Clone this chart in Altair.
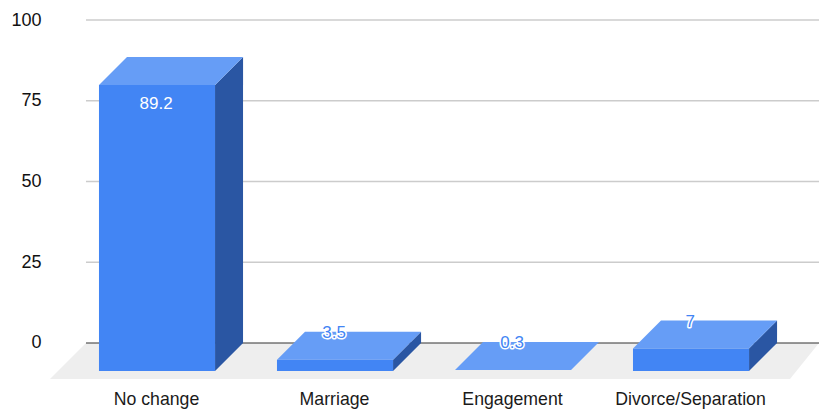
import altair as alt
import pandas as pd

categories = ["No change", "Marriage", "Engagement", "Divorce/Separation"]
values = [89.2, 3.5, 0.3, 7]
labels = ["89.2", "3.5", "0.3", "7"]
y_ticks = [0, 25, 50, 75, 100]

C_FRONT, C_TOP, C_SIDE, C_FLOOR = "#4285f4", "#669df6", "#2a56a3", "#eeeeee"
HALF = 0.326      # half bar width, in category steps
DX = 0.1573       # depth of the 3D box on x, in category steps
DY = 8.67         # depth of the 3D box on y, in value units
BAR_K = 0.993     # bars are drawn slightly shorter than the gridlines' scale
X_MAX = 3.719

x_scale = alt.Scale(domain=[-0.6236, X_MAX], nice=False, zero=False)
y_scale = alt.Scale(domain=[-11.146, 100], nice=False, zero=False)
FONT = "Liberation Sans"

front, top, side, text = [], [], [], []
for i, (cat, v, lab) in enumerate(zip(categories, values, labels)):
    h = v * BAR_K
    xl, xr = i - HALF, i + HALF
    if v >= 1:
        front.append(dict(cat=cat, x=xl, x2=xr, y=h - DY, y2=-DY))
        side.append(dict(cat=cat, x=xr, y=h - DY, y2=-DY))
        side.append(dict(cat=cat, x=xr + DX, y=h, y2=0))
    top.append(dict(cat=cat, x=xl, x2=xr, y=h - DY))
    top.append(dict(cat=cat, x=xl + DX, x2=xr + DX, y=h))
    inside = v > 20
    text.append(dict(x=i - 0.005, y=(h - DY - 5.9) if inside else h - 0.3, t=lab, halo=not inside))

front, top, side, text = map(pd.DataFrame, (front, top, side, text))
floor = pd.DataFrame([
    dict(x=-0.601, x2=3.556, y=-11.146),
    dict(x=-0.399, x2=X_MAX, y=0),
])
grid = pd.DataFrame(dict(y=y_ticks, x=-0.399, x2=X_MAX))

X = alt.X("x:Q", scale=x_scale, title=None, axis=alt.Axis(
    values=list(range(len(categories))), grid=False, domain=False, ticks=False,
    labelExpr="[" + ",".join(repr(c) for c in categories) + "][datum.value]",
    labelFont=FONT, labelFontSize=17.7, labelColor="#1a1a1a", labelPadding=11, labelOverlap=False,
    labelOffset=-1,
))
Y = alt.Y("y:Q", scale=y_scale, title=None, axis=alt.Axis(
    values=y_ticks, grid=False, domain=False, ticks=False,
    labelFont=FONT, labelFontSize=18, labelColor="#111111", labelPadding=5,
))

layers = [
    alt.Chart(floor).mark_area(orient="horizontal", color=C_FLOOR).encode(x=X, x2="x2:Q", y=Y),
    alt.Chart(grid[grid.y > 0]).mark_rule(color="#cccccc", strokeWidth=1.4).encode(x=X, x2="x2:Q", y=Y),
    alt.Chart(grid[grid.y == 0]).mark_rule(color="#333333", strokeWidth=1.2).encode(x=X, x2="x2:Q", y=Y),
    alt.Chart(side).mark_area(color=C_SIDE).encode(x=X, y=Y, y2="y2:Q", detail="cat:N"),
    alt.Chart(top).mark_area(orient="horizontal", color=C_TOP).encode(x=X, x2="x2:Q", y=Y, detail="cat:N"),
    alt.Chart(front).mark_rect(color=C_FRONT).encode(x=X, x2="x2:Q", y=Y, y2="y2:Q"),
    alt.Chart(text[~text.halo]).mark_text(
        font=FONT, fontSize=17, baseline="middle", align="center", fill="#ffffff",
    ).encode(x=X, y=Y, text="t:N"),
    alt.Chart(text[text.halo]).mark_text(
        font=FONT, fontSize=17, baseline="middle", align="center",
        stroke="#ffffff", strokeWidth=3, strokeJoin="round", fill="#ffffff",
    ).encode(x=X, y=Y, text="t:N"),
    alt.Chart(text[text.halo]).mark_text(
        font=FONT, fontSize=17, baseline="middle", align="center", fill=C_FRONT,
    ).encode(x=X, y=Y, text="t:N"),
]

chart = alt.layer(*layers).properties(
    width=773, height=359,
    autosize=alt.AutoSizeParams(type="none"),
    padding={"left": 38, "top": 12, "right": 0, "bottom": 30},
    background="#ffffff",
).configure_view(stroke=None)

chart.save("out.html", embed_options={"renderer": "svg", "actions": False})
